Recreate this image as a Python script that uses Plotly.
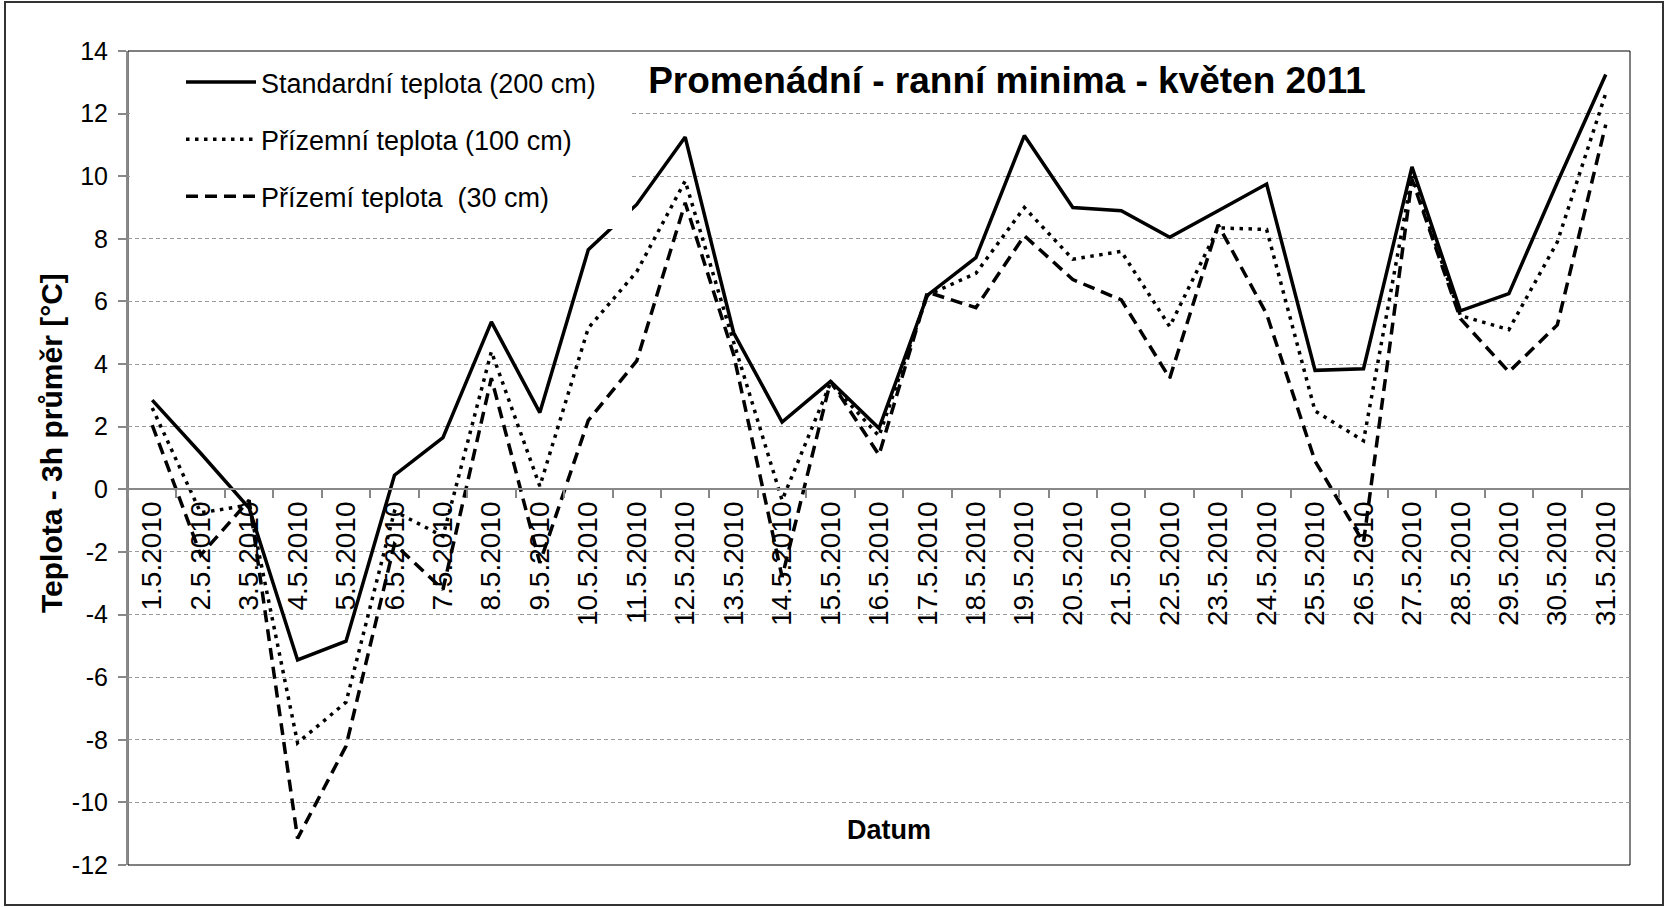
import plotly.graph_objects as go

dates = ["1.5.2010", "2.5.2010", "3.5.2010", "4.5.2010", "5.5.2010", "6.5.2010", "7.5.2010",
         "8.5.2010", "9.5.2010", "10.5.2010", "11.5.2010", "12.5.2010", "13.5.2010", "14.5.2010",
         "15.5.2010", "16.5.2010", "17.5.2010", "18.5.2010", "19.5.2010", "20.5.2010", "21.5.2010",
         "22.5.2010", "23.5.2010", "24.5.2010", "25.5.2010", "26.5.2010", "27.5.2010", "28.5.2010",
         "29.5.2010", "30.5.2010", "31.5.2010"]

standard_200 = [2.85, 1.15, -0.6, -5.45, -4.85, 0.45, 1.65, 5.35, 2.45, 7.65, 9.1, 11.25, 5.0, 2.15,
                3.45, 1.95, 6.2, 7.4, 11.3, 9.0, 8.9, 8.05, 8.9, 9.75, 3.8, 3.85, 10.3, 5.7, 6.25, 9.8, 13.25]
ground_100 = [2.6, -0.75, -0.5, -8.1, -6.8, -0.7, -1.5, 4.4, 0.1, 5.15, 6.95, 9.85, 4.7, -0.35,
              3.4, 1.7, 6.2, 6.9, 9.0, 7.35, 7.6, 5.2, 8.35, 8.3, 2.5, 1.55, 10.0, 5.55, 5.1, 7.9, 12.65]
ground_30 = [2.05, -2.1, -0.35, -11.15, -8.2, -1.75, -3.2, 3.55, -2.35, 2.2, 4.1, 9.15, 4.3, -2.8,
             3.45, 1.1, 6.3, 5.8, 8.1, 6.7, 6.05, 3.55, 8.45, 5.6, 0.9, -1.7, 9.9, 5.45, 3.75, 5.25, 11.65]

series_names = ["Standardní teplota (200 cm)", "Přízemní teplota (100 cm)", "Přízemí teplota  (30 cm)"]

y_tick_values = [-12, -10, -8, -6, -4, -2, 0, 2, 4, 6, 8, 10, 12, 14]
y_tick_labels = ["-12", "-10", "-8", "-6", "-4", "-2", "0", "2", "4", "6", "8", "10", "12", "14"]

FONT = "Liberation Sans, Arial, sans-serif"
W, H = 1668, 908
L, R, T, B = 128, 1630, 51, 865
pw, ph = R - L, B - T

def px(x):
    return (x - L) / pw

def py(y):
    return (B - y) / ph

fig = go.Figure()
fig.add_trace(go.Scatter(x=dates, y=standard_200, mode="lines", name=series_names[0],
                         legendgroup="a", line=dict(color="black", width=3.5)))
fig.add_trace(go.Scatter(x=dates, y=ground_100, mode="lines", name=series_names[1],
                         legendgroup="b", line=dict(color="black", width=3.5, dash="3.5px,5.5px")))
fig.add_trace(go.Scatter(x=dates, y=ground_30, mode="lines", name=series_names[2],
                         legendgroup="c", line=dict(color="black", width=3.5, dash="12px,7px")))

fig.update_layout(
    width=W, height=H,
    margin=dict(l=L, r=W - R, t=T, b=H - B, pad=0),
    paper_bgcolor="white", plot_bgcolor="white",
    font=dict(family=FONT, color="black"),
    title=dict(text="<b>Promenádní - ranní minima - květen 2011</b>",
               font=dict(size=37, family=FONT, color="black"),
               x=1007 / W, xanchor="center", y=1 - 80 / H, yanchor="middle"),
    showlegend=True,
    legend=dict(x=px(181), y=py(58), xanchor="left", yanchor="top",
                bgcolor="white", borderwidth=0, font=dict(size=27, family=FONT),
                itemwidth=70, tracegroupgap=19, traceorder="grouped"),
    xaxis=dict(type="category", anchor="free", position=12 / 26, showline=True,
               linecolor="#888888", linewidth=2, ticks="outside", tickson="boundaries",
               ticklen=8, tickcolor="#888888", tickwidth=2, tickangle=-90,
               tickfont=dict(size=28, family=FONT), showgrid=False, zeroline=False,
               range=[-0.5, 30.5]),
    yaxis=dict(range=[-12, 14], tickvals=y_tick_values, ticktext=y_tick_labels,
               showline=True, linecolor="#888888",
               linewidth=2, ticks="outside", ticklen=8, tickcolor="#888888", tickwidth=2,
               ticklabelstandoff=5,
               tickfont=dict(size=25, family=FONT), showgrid=True, gridcolor="#9a9a9a",
               griddash="4px,3px", gridwidth=1, zeroline=False),
)

# plot-area border and outer chart border
fig.add_shape(type="rect", xref="paper", yref="paper", x0=0, x1=1, y0=0, y1=1,
              line=dict(color="black", width=1), layer="below")
fig.add_shape(type="rect", xref="paper", yref="paper", x0=px(5), x1=px(1663), y0=py(905), y1=py(2),
              line=dict(color="#333333", width=2), layer="below")
# white legend backdrop (as in the original chart the legend box hides the lines beneath)
fig.add_shape(type="rect", xref="paper", yref="paper", x0=px(L + 2), x1=px(632), y0=py(229), y1=py(60),
              line=dict(width=0), fillcolor="white", layer="above")

fig.add_annotation(text="<b>Datum</b>", xref="paper", yref="paper", x=px(889), y=py(830),
                   xanchor="center", yanchor="middle", showarrow=False,
                   font=dict(size=27, family=FONT, color="black"))
fig.add_annotation(text="<b>Teplota - 3h průměr [°C]</b>", xref="paper", yref="paper",
                   x=px(51), y=py(443), xanchor="center", yanchor="middle", textangle=-90,
                   showarrow=False, font=dict(size=30, family=FONT, color="black"))

fig.write_html("out.html", config={"displayModeBar": False},
               post_script="document.body.style.margin='0';")
